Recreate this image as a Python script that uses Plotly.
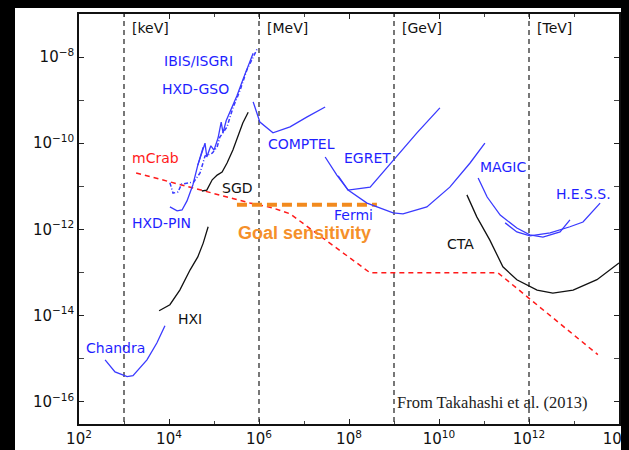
import numpy as np
import plotly.graph_objects as go

# ---------------- data (log10 E [eV], log10 sensitivity [erg cm^-2 s^-1]) -------------
chandra_logE = [2.58, 2.80, 3.07, 3.20, 3.51, 3.73, 3.91]
chandra_logF = [-15.03, -15.31, -15.42, -15.40, -15.03, -14.64, -14.24]

hxi_logE = [3.78, 4.02, 4.24, 4.47, 4.64, 4.76, 4.87]
hxi_logF = [-13.89, -13.75, -13.41, -12.94, -12.64, -12.32, -11.94]

pin_logE = [4.02, 4.18, 4.29, 4.40, 4.53, 4.64, 4.76]
pin_logF = [-11.48, -11.57, -11.55, -11.34, -10.97, -10.51, -10.09]

gso_logE = [4.64, 4.80, 4.84, 4.93, 5.00, 5.09, 5.16, 5.20, 5.27, 5.38, 5.51, 5.64, 5.78, 5.87]
gso_logF = [-10.51, -10.00, -10.32, -10.06, -10.16, -9.88, -9.51, -9.76, -9.48, -9.23, -8.90, -8.53, -8.14, -7.91]

isgri_logE = [4.02, 4.09, 4.20, 4.28, 4.55, 4.69, 4.80, 4.96, 5.07, 5.13, 5.29, 5.42, 5.58, 5.73, 5.96]
isgri_logF = [-10.92, -11.16, -11.13, -10.95, -10.90, -10.69, -10.30, -10.23, -10.09, -9.86, -9.62, -9.18, -8.77, -8.30, -7.81]

sgd_logE = [4.73, 4.84, 4.96, 5.07, 5.18, 5.29, 5.42, 5.53, 5.64, 5.76]
sgd_logF = [-11.11, -11.09, -10.85, -10.74, -10.67, -10.46, -10.16, -9.86, -9.53, -9.28]

comptel_logE = [5.87, 6.02, 6.31, 6.69, 7.07, 7.47]
comptel_logF = [-9.04, -9.51, -9.76, -9.62, -9.39, -9.16]

egret_logE = [7.76, 7.98, 8.47, 8.98, 9.51, 10.02]
egret_logF = [-10.76, -11.09, -11.02, -10.39, -9.76, -9.18]

fermi_logE = [7.47, 7.73, 7.98, 8.40, 8.98, 9.20, 9.73, 10.24, 10.69, 11.02]
fermi_logF = [-10.32, -10.74, -11.09, -11.39, -11.62, -11.64, -11.48, -11.02, -10.46, -10.00]

magic_logE = [10.87, 11.07, 11.36, 11.73, 12.02, 12.31, 12.69, 12.91]
magic_logF = [-10.81, -11.25, -11.67, -11.97, -12.13, -12.18, -12.06, -11.78]

hess_logE = [11.47, 11.73, 12.02, 12.47, 12.91, 13.20, 13.58]
hess_logF = [-11.85, -12.06, -12.15, -12.08, -11.94, -11.83, -11.39]

cta_logE = [10.62, 10.84, 11.13, 11.42, 11.73, 12.18, 12.53, 12.98, 13.51, 14.0]
cta_logF = [-11.20, -11.71, -12.25, -12.87, -13.17, -13.41, -13.48, -13.41, -13.17, -12.78]

mcrab_logE = [3.27, 5.00, 5.80, 6.30, 6.69, 8.47, 11.31, 13.53]
mcrab_logF = [-10.69, -11.18, -11.39, -11.50, -11.64, -13.01, -13.01, -14.91]

goal_logE = [5.51, 8.62]
goal_logF = [-11.43, -11.43]

unit_logE = [3, 6, 9, 12]
unit_names = ["[keV]", "[MeV]", "[GeV]", "[TeV]"]

x_tick_exp = list(range(2, 15, 2))
y_tick_exp = list(range(-16, -7, 2))

# ---------------- layout geometry ----------------
# The page keeps the browser's default 8px body margin (painted black, like the
# screenshot border of the original); the figure is shifted by that amount.
OFF = 8
W, H = 629, 450
L, R, T, B = 79, 619, 14, 424          # plot area in window pixels
X0, X1 = 2.0, 14.0
Y0, Y1 = -16.52, -7.0


def lx(px):
    return X0 + (px - L) / (R - L) * (X1 - X0)


def ly(py):
    return Y1 - (py - T) / (B - T) * (Y1 - Y0)


def pow10(a):
    return list(10 ** np.array(a, dtype=float))


BLUE_L = "#3a3aff"
BLUE_T = "#1f1fff"

fig = go.Figure()

# unit dividers
for e in unit_logE:
    fig.add_trace(go.Scatter(x=pow10([e, e]), y=pow10([Y0 - 1, Y1 + 1]), mode="lines",
                             line=dict(color="#555555", width=1.6, dash="5px,4px"),
                             hoverinfo="skip", showlegend=False))


def add_line(xs, ys, color, width=1.3, dash="solid"):
    fig.add_trace(go.Scatter(x=pow10(xs), y=pow10(ys), mode="lines",
                             line=dict(color=color, width=width, dash=dash),
                             showlegend=False))


add_line(mcrab_logE, mcrab_logF, "#ff1a1a", 1.5, "5px,4px")
add_line(goal_logE, goal_logF, "#f28a1e", 4, "10px,5px")
add_line(chandra_logE, chandra_logF, BLUE_L)
add_line(hxi_logE, hxi_logF, "#111111")
add_line(pin_logE, pin_logF, BLUE_L)
add_line(gso_logE, gso_logF, BLUE_L)
add_line(isgri_logE, isgri_logF, BLUE_L, 1.5, "4px,2px,1px,2px")
add_line(sgd_logE, sgd_logF, "#111111")
add_line(comptel_logE, comptel_logF, BLUE_L)
add_line(egret_logE, egret_logF, BLUE_L)
add_line(fermi_logE, fermi_logF, BLUE_L)
add_line(magic_logE, magic_logF, BLUE_L)
add_line(hess_logE, hess_logF, BLUE_L)
add_line(cta_logE, cta_logF, "#111111")

LABEL_FONT = "DejaVu Sans"
annotations = []


def label(text, px, py, color, size=14, family=LABEL_FONT, anchor="left"):
    annotations.append(dict(x=lx(px), y=ly(py), xref="x", yref="y", text=text,
                            showarrow=False, xanchor=anchor, yanchor="middle",
                            font=dict(family=family, size=size, color=color)))


for e, name in zip(unit_logE, unit_names):
    annotations.append(dict(x=e, y=ly(28), xref="x", yref="y", text=name, showarrow=False,
                            xanchor="left", yanchor="middle", xshift=6,
                            font=dict(family=LABEL_FONT, size=14, color="#111111")))

label("IBIS/ISGRI", 162, 61, BLUE_T)
label("HXD-GSO", 160, 89, BLUE_T)
label("mCrab", 130, 158, "#ff1a1a")
label("SGD", 220, 188, "#111111")
label("HXD-PIN", 130, 223, BLUE_T)
label("HXI", 176, 319, "#111111")
label("Chandra", 84, 348, BLUE_T)
label("COMPTEL", 266, 144, BLUE_T)
label("EGRET", 342, 158, BLUE_T)
label("Fermi", 332, 215, BLUE_T)
label("MAGIC", 478, 167, BLUE_T)
label("H.E.S.S.", 554, 194, BLUE_T)
label("CTA", 445, 244, "#111111")
label("<b>Goal sensitivity</b>", 236, 233, "#f5902a", 18, "Liberation Sans")
label("From Takahashi et al. (2013)", 395, 402, "#222222", 16.5, "Liberation Serif")

fig.update_layout(annotations=annotations)

# figure-pixel geometry (window pixels minus the body offset)
fL, fR, fT, fB = L - OFF, R - OFF, T - OFF, B - OFF

# black strip on the left edge (window x 8..15), inside the figure
shapes = [
    dict(type="rect", xref="paper", yref="paper",
         x0=(0 - fL) / (fR - fL), x1=(15 - OFF - fL) / (fR - fL),
         y0=(fB - H) / (fB - fT), y1=(fB - 0) / (fB - fT),
         fillcolor="black", line=dict(width=0), layer="above"),
]

tickfont = dict(family=LABEL_FONT, size=15, color="#111111")

fig.update_layout(
    template="none",
    width=W, height=H,
    margin=dict(l=fL, r=W - fR, t=fT, b=H - fB, pad=0, autoexpand=False),
    paper_bgcolor="white", plot_bgcolor="white",
    shapes=shapes,
    showlegend=False,
    xaxis=dict(type="log", range=[X0, X1], automargin=False,
               tickvals=[10.0 ** k for k in x_tick_exp],
               ticktext=[f"10<sup>{k}</sup>" for k in x_tick_exp],
               ticks="inside", ticklen=5, tickwidth=1, tickcolor="#222",
               showline=True, linecolor="#111", linewidth=1.6, mirror="allticks",
               showgrid=False, zeroline=False, tickfont=tickfont,
               minor=dict(tickvals=[10.0 ** k for k in range(3, 14, 2)], ticks="inside",
                          ticklen=3, tickcolor="#444", showgrid=False)),
    yaxis=dict(type="log", range=[Y0, Y1], automargin=False,
               tickvals=[10.0 ** k for k in y_tick_exp],
               ticktext=[f"10<sup>\u2212{-k}</sup>" for k in y_tick_exp],
               ticks="inside", ticklen=5, tickwidth=1, tickcolor="#222",
               showline=True, linecolor="#111", linewidth=1.6, mirror="allticks",
               showgrid=False, zeroline=False, tickfont=tickfont,
               minor=dict(tickvals=[10.0 ** k for k in range(-17, -6, 2)], ticks="inside",
                          ticklen=5, tickcolor="#444", showgrid=False)),
)

fig.write_html("out.html",
               config={"displayModeBar": False},
               post_script="document.body.style.background='black';")
